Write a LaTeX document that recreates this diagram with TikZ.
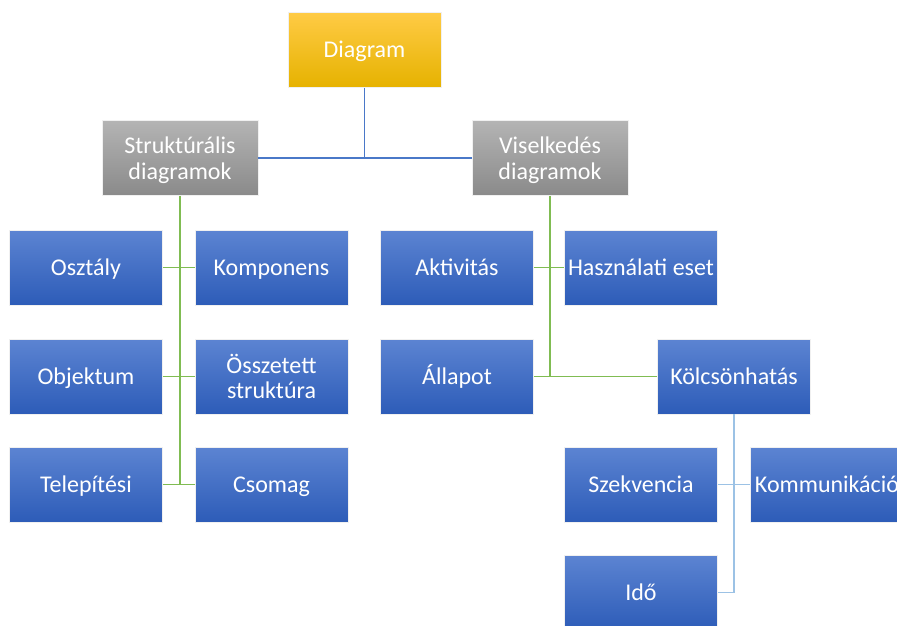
\documentclass[tikz,border=0pt]{standalone}
\usepackage{fontspec}
\setmainfont{Carlito}
\usetikzlibrary{positioning}
\definecolor{roottop}{HTML}{FFCB45}
\definecolor{rootbot}{HTML}{E6B200}
\definecolor{grouptop}{HTML}{B4B4B4}
\definecolor{groupbot}{HTML}{8A8A8A}
\definecolor{leaftop}{HTML}{5C84D2}
\definecolor{leafbot}{HTML}{2D5CB8}
\definecolor{rootwire}{HTML}{4A78C8}
\definecolor{greenwire}{HTML}{80BC52}
\definecolor{lightwire}{HTML}{9CC2E5}

\tikzset{
  box/.style={rectangle, draw=white!88!gray, line width=0.8pt,
              minimum width=153pt, minimum height=75pt, inner sep=0pt,
              align=center, text=white, font=\fontsize{24}{25.5}\selectfont,
              text height=15.5pt, text depth=0pt},
  twolines/.style={text height=},
  rootbox/.style={box, top color=roottop, bottom color=rootbot},
  groupbox/.style={box, twolines, minimum width=156pt, top color=grouptop, bottom color=groupbot},
  leafbox/.style={box, top color=leaftop, bottom color=leafbot},
  wire/.style={line width=1.6pt}
}

\begin{document}
\begin{tikzpicture}[x=1pt, y=-1pt]
  \useasboundingbox (0,0) rectangle (897,625);
  \clip (0,0) rectangle (897,625);

  % top level and the two groups
  \node[rootbox]  (diagram) at (364.5,50)  {Diagram};
  \node[groupbox] (struct)  at (180,158)   {Struktúrális\\diagramok};
  \node[groupbox] (behav)   at (550,158)   {Viselkedés\\diagramok};

  % structural leaves
  \node[leafbox] (osztaly)  at (86,267.5)  {Osztály};
  \node[leafbox] (komp)     at (271.5,267.5) {Komponens};
  \node[leafbox] (objektum) at (86,376.5)  {Objektum};
  \node[leafbox, twolines] (osszet) at (271.5,376.5) {Összetett\\struktúra};
  \node[leafbox] (telep)    at (86,484.5)  {Telepítési};
  \node[leafbox] (csomag)   at (271.5,484.5) {Csomag};

  % behavioural leaves
  \node[leafbox] (aktiv)    at (457,267.5) {Aktivitás};
  \node[leafbox] (haszn)    at (641,267.5) {Használati eset};
  \node[leafbox] (allapot)  at (457,376.5) {Állapot};
  \node[leafbox] (kolcs)    at (734,376.5) {Kölcsönhatás};
  \node[leafbox] (szekv)    at (641,484.5) {Szekvencia};
  \node[leafbox] (komm)     at (827,484.5) {Kommunikáció};
  \node[leafbox] (ido)      at (641,592.5) {Idő};

  % connectors
  \draw[wire, rootwire] (diagram.south) -- (diagram |- struct);
  \draw[wire, rootwire] (struct) -- (behav);

  \draw[wire, greenwire] (struct.south) -- (struct |- telep) -- (telep);
  \draw[wire, greenwire] (osztaly) -- (komp);
  \draw[wire, greenwire] (objektum) -- (osszet);
  \draw[wire, greenwire] (struct |- csomag) -- (csomag);

  \draw[wire, greenwire] (behav.south) -- (behav |- allapot);
  \draw[wire, greenwire] (aktiv) -- (haszn);
  \draw[wire, greenwire] (allapot) -- (kolcs);

  \draw[wire, lightwire] (kolcs.south) -- (kolcs |- ido) -- (ido);
  \draw[wire, lightwire] (szekv) -- (komm);
\end{tikzpicture}
\end{document}
